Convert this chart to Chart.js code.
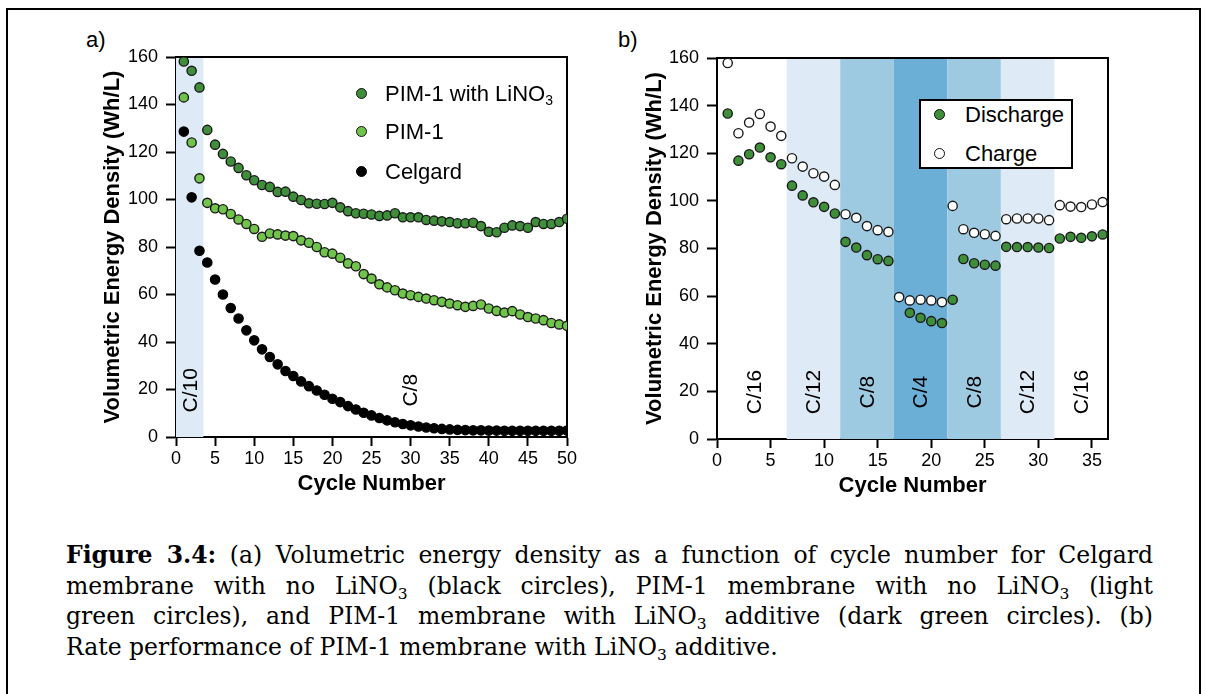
<!DOCTYPE html>
<html>
<head>
<meta charset="utf-8">
<script src="https://cdn.jsdelivr.net/npm/chart.js@4.4.0/dist/chart.umd.min.js"></script>
<style>
body{margin:0;background:#fff;width:1205px;height:694px;overflow:hidden;position:relative;font-family:'Liberation Sans',Arial,sans-serif;}
#frame{position:absolute;left:6px;top:8px;width:1195px;height:740px;border:2px solid #000;box-sizing:border-box;}
#wrapA{position:absolute;left:100px;top:0;width:480px;height:497px;}
#wrapB{position:absolute;left:642px;top:0;width:480px;height:499px;}
.panel{position:absolute;font-size:22px;line-height:22px;}
.leg{position:absolute;font-size:22px;line-height:24px;white-space:nowrap;}
.leg sub{font-size:14px;vertical-align:-4px;line-height:0;}
.dot{position:absolute;width:9px;height:9px;border-radius:50%;border:1.4px solid #111;}
#legB{position:absolute;left:919px;top:99px;width:154px;height:70px;border:2px solid #000;background:#fff;box-sizing:border-box;}
#caption{position:absolute;left:66px;top:540px;width:1087px;font-family:'DejaVu Serif','Liberation Serif',serif;font-size:23.5px;line-height:30.5px;}
#caption div{text-align:justify;text-align-last:justify;white-space:nowrap;}
#caption div.last{text-align-last:left;}
#caption sub{font-size:15.5px;vertical-align:-5px;line-height:0;}
</style>
</head>
<body>
<div id="frame"></div>
<div class="panel" style="left:86px;top:29px;">a)</div>
<div class="panel" style="left:618px;top:29px;">b)</div>
<div id="wrapA"><canvas id="chartA"></canvas></div>
<div id="wrapB"><canvas id="chartB"></canvas></div>

<div class="dot" style="left:356px;top:88px;background:#3f8f3a"></div>
<div class="leg" style="left:385px;top:82px;">PIM-1 with LiNO<sub>3</sub></div>
<div class="dot" style="left:356px;top:126px;background:#70c44a"></div>
<div class="leg" style="left:385px;top:120px;">PIM-1</div>
<div class="dot" style="left:356px;top:166px;background:#000;border-color:#000"></div>
<div class="leg" style="left:385px;top:160px;">Celgard</div>

<div id="legB"></div>
<div class="dot" style="left:934px;top:109px;background:#3f8f3a"></div>
<div class="leg" style="left:965px;top:103px;">Discharge</div>
<div class="dot" style="left:934px;top:148px;background:#fff"></div>
<div class="leg" style="left:965px;top:142px;">Charge</div>

<div id="caption">
<div><b>Figure 3.4:</b> (a) Volumetric energy density as a function of cycle number for Celgard</div>
<div>membrane with no LiNO<sub>3</sub> (black circles), PIM-1 membrane with no LiNO<sub>3</sub> (light</div>
<div>green circles), and PIM-1 membrane with LiNO<sub>3</sub> additive (dark green circles). (b)</div>
<div class="last">Rate performance of PIM-1 membrane with LiNO<sub>3</sub> additive.</div>
</div>

<script>
// panel a: cycle number vs volumetric energy density (Wh/L)
var cyclesA = [1,2,3,4,5,6,7,8,9,10,11,12,13,14,15,16,17,18,19,20,21,22,23,24,25,
               26,27,28,29,30,31,32,33,34,35,36,37,38,39,40,41,42,43,44,45,46,47,48,49,50];
var pimLino3 = [158.1,154.2,147.2,129.3,123.1,119.2,116,113.3,110.2,108.1,106.1,105.3,103.2,103.3,101.2,
                99.8,98.4,98.2,98.1,98.6,96.7,95.1,94.2,94,93.7,93.1,93.3,94.2,92.5,92.5,92.5,91.4,91.1,
                90.8,90.5,90,90,90.2,88.8,86.4,86.2,88.1,89.1,88.8,88.1,90.5,89.7,89.7,90.5,91.9];
var pim1 = [143,124,108.9,98.6,96.3,95.9,93.9,91.6,89.7,87.6,84.3,85.7,85.3,84.8,84.6,82.8,81.8,80,
            77.8,77.2,75.5,73.1,71.9,68.6,66.7,64.3,63,61.8,60.4,59.7,59,58.3,57.6,56.9,56.2,55.5,54.8,
            55.2,55.8,54.1,53.1,52.4,53,51.6,50.5,49.9,49.2,48,47.4,46.8];
var celgard = [128.6,100.9,78.4,73.5,66.3,60,54.3,49.9,44.9,40.7,36.9,33.7,30.6,27.8,25.7,23.4,21.4,
               19.6,17.8,16.1,14.7,13,11.6,10.2,9.1,8,7,6.2,5.5,4.9,4.4,4,3.7,3.4,3.2,3,2.9,2.8,2.8,
               2.7,2.7,2.6,2.6,2.6,2.6,2.6,2.6,2.6,2.6,2.7];

// panel b: rate test
var cyclesB = [1,2,3,4,5,6,7,8,9,10,11,12,13,14,15,16,17,18,19,20,21,22,23,24,25,26,27,28,29,30,31,32,33,34,35,36];
var discharge = [136.7,116.9,119.6,122.4,118.3,115.4,106.4,102.3,99.4,97.5,94.7,82.8,80.4,77.2,75.5,74.8,
                 null,53,50.9,49.5,48.7,58.5,75.6,73.8,73.2,72.8,80.7,80.6,80.6,80.4,80.2,84.2,84.9,84.5,85.1,85.9];
var charge = [157.9,128.4,132.9,136.5,131.2,127.3,117.9,114.4,111.6,110.2,106.7,94.4,92.9,89.4,87.7,87,
              59.6,58.2,58.5,58.2,57.5,97.9,88.1,86.6,86,85.3,92.3,92.6,92.6,92.6,91.9,98.2,97.6,97.4,98.5,99.5];

// C-rate regions (cycle number ranges) and their labels
var ratesA = ['C/10','C/8'];
var rateFromA = [0, 3.5];
var rateToA = [3.5, 50];
var rateMidA = [1.85, 29.9];
var ratesB = ['C/16','C/12','C/8','C/4','C/8','C/12','C/16'];
var rateFromB = [0, 6.5, 11.5, 16.5, 21.5, 26.5, 31.5];
var rateToB = [6.5, 11.5, 16.5, 21.5, 26.5, 31.5, 36.5];
var rateMidB = [3.5, 9, 14, 19, 24, 29, 34];

var FONT = "'Liberation Sans', Arial, sans-serif";
var rateColor = {'C/16':null,'C/10':'#deebf7','C/12':'#deebf7','C/8':'#9ecae1','C/4':'#6baed6'};
var rateColorA = {'C/10':'#deebf7','C/8':null};

function pts(xs, ys){
    return xs.map(function(x,i){ return {x:x, y:ys[i]}; });
}

// shaded bands + rotated rate labels + box frame
var bandPlugin = {
    id: 'bands',
    beforeDatasetsDraw: function(chart, args, opts){
        var ctx = chart.ctx, a = chart.chartArea;
        var xs = chart.scales.x, ys = chart.scales.y;
        ctx.save();
        ctx.beginPath();
        ctx.rect(a.left, a.top, a.right-a.left, a.bottom-a.top);
        ctx.clip();
        for(var i=0;i<opts.labels.length;i++){
            var c = opts.colors[opts.labels[i]];
            if(!c) continue;
            var x1 = xs.getPixelForValue(opts.from[i]);
            var x2 = xs.getPixelForValue(opts.to[i]);
            ctx.fillStyle = c;
            ctx.fillRect(x1, a.top, x2-x1, a.bottom-a.top);
        }
        ctx.restore();
        ctx.save();
        ctx.fillStyle = '#000';
        ctx.font = '21px ' + FONT;
        ctx.textAlign = 'center';
        ctx.textBaseline = 'middle';
        for(var i=0;i<opts.labels.length;i++){
            ctx.save();
            ctx.translate(xs.getPixelForValue(opts.mid[i]), ys.getPixelForValue(19.7));
            ctx.rotate(-Math.PI/2);
            ctx.fillText(opts.labels[i], 0, 1);
            ctx.restore();
        }
        ctx.strokeStyle = '#000';
        ctx.lineWidth = 2;
        ctx.beginPath();
        ctx.moveTo(a.left, a.top);
        ctx.lineTo(a.right, a.top);
        ctx.lineTo(a.right, a.bottom);
        ctx.stroke();
        ctx.restore();
    }
};

function makeScales(xmax, yw){
    return {
        x: {
            type: 'linear', min: 0, max: xmax,
            ticks: {stepSize: 5, includeBounds: false, color: '#000', font: {size: 18, family: FONT}, padding: 2, maxRotation: 0},
            grid: {drawOnChartArea: false, tickLength: 9, tickWidth: 2, color: '#000'},
            border: {color: '#000', width: 2},
            title: {display: true, text: 'Cycle Number', color: '#000', font: {size: 22, weight: 'bold', family: FONT}, padding: 0},
            afterFit: function(s){ s.height = 60; }
        },
        y: {
            type: 'linear', min: 0, max: 160,
            ticks: {stepSize: 20, color: '#000', font: {size: 18, family: FONT}, padding: 8},
            grid: {drawOnChartArea: false, tickLength: 10, tickWidth: 2, color: '#000'},
            border: {color: '#000', width: 2},
            title: {display: true, text: 'Volumetric Energy Density (Wh/L)', color: '#000', font: {size: 22, weight: 'bold', family: FONT}, padding: 0},
            afterFit: function(s){ s.width = yw; }
        }
    };
}

var dotStyle = {showLine: false, pointRadius: 4.6, pointHoverRadius: 4.6, pointBorderWidth: 1.4, pointBorderColor: '#1a1a1a'};

new Chart(document.getElementById('chartA'), {
    type: 'scatter',
    data: {
        datasets: [
            Object.assign({label: 'Celgard', data: pts(cyclesA, celgard), pointBackgroundColor: '#000'}, dotStyle, {pointBorderColor: '#000'}),
            Object.assign({label: 'PIM-1', data: pts(cyclesA, pim1), pointBackgroundColor: '#70c44a'}, dotStyle),
            Object.assign({label: 'PIM-1 with LiNO3', data: pts(cyclesA, pimLino3), pointBackgroundColor: '#3f8f3a'}, dotStyle)
        ]
    },
    options: {
        responsive: true, maintainAspectRatio: false, animation: false,
        layout: {padding: {left: 0, top: 57, right: 13, bottom: 0}},
        scales: makeScales(50, 76),
        plugins: {
            legend: {display: false}, tooltip: {enabled: false},
            bands: {labels: ratesA, from: rateFromA, to: rateToA, mid: rateMidA, colors: rateColorA}
        }
    },
    plugins: [bandPlugin]
});

new Chart(document.getElementById('chartB'), {
    type: 'scatter',
    data: {
        datasets: [
            Object.assign({label: 'Charge', data: pts(cyclesB, charge), pointBackgroundColor: '#fff'}, dotStyle),
            Object.assign({label: 'Discharge', data: pts(cyclesB, discharge), pointBackgroundColor: '#3f8f3a'}, dotStyle)
        ]
    },
    options: {
        responsive: true, maintainAspectRatio: false, animation: false,
        layout: {padding: {left: 0, top: 58, right: 14, bottom: 0}},
        scales: makeScales(36.5, 75),
        plugins: {
            legend: {display: false}, tooltip: {enabled: false},
            bands: {labels: ratesB, from: rateFromB, to: rateToB, mid: rateMidB, colors: rateColor}
        }
    },
    plugins: [bandPlugin]
});
</script>
</body>
</html>
